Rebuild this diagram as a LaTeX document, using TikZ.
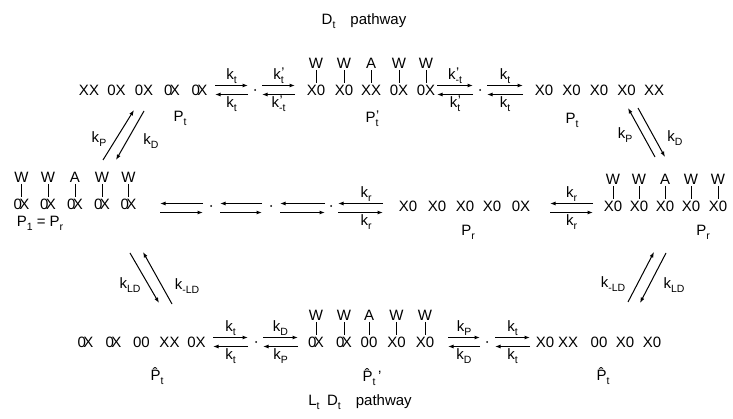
\documentclass[tikz,border=0pt]{standalone}
\usepackage{fontspec}
\setmainfont{Liberation Sans}
\usetikzlibrary{arrows.meta,calc}
\newcommand\ssz{\fontsize{10.5}{12}\selectfont}
\newcommand\sub[1]{\raisebox{-0.28em}{\ssz#1}}
\newcommand\primemark{\fontsize{14}{14}\selectfont\kern0.5pt\textquoteright}
\newcommand\supsub[2]{#1\rlap{\raisebox{0.12em}{\primemark}}\raisebox{-0.28em}{\ssz#2}}
\newcommand\ox{0\kern-2.8pt X}
\tikzset{
  pr/.style={inner sep=0pt, font=\fontsize{15}{17}\selectfont},
  lab/.style={inner sep=1.5pt, font=\fontsize{15}{17}\selectfont},
  eqa/.style={line width=1pt, -{Latex[length=5.5pt,width=4pt]}},
  bar/.style={line width=1pt, shorten <=1.5pt, shorten >=1.5pt},
}
% chain: name, y, list x/text
\newcommand\chain[3]{\foreach \xx/\lbl [count=\i] in {#3}{\node[pr] (#1-\i) at (\xx,#2) {\lbl};}}
% tops over #1-1..5
\newcommand\tops[2]{\foreach \lbl [count=\i] in {#2}{\node[pr,anchor=south] (#1w\i) at ($(#1-\i.north)+(0,-16)$) {\lbl}; \draw[bar] (#1w\i.south) -- (#1-\i.north);}}
% pair with upper arrow to the right: name, x1, x2, y, up label, low label
\newcommand\eqr[6]{%
  \coordinate (#1a) at (#2,{#4-4.5}); \coordinate (#1b) at (#3,{#4-4.5});
  \coordinate (#1c) at (#2,{#4+4.5}); \coordinate (#1d) at (#3,{#4+4.5});
  \draw[eqa] (#1a) -- (#1b); \draw[eqa] (#1d) -- (#1c);
  \node[lab,anchor=south] (#1u) at ($(#1a)!.5!(#1b)$) {#5};
  \node[lab,anchor=north] (#1l) at ($(#1c)!.5!(#1d)$) {#6};}
% pair with upper arrow to the left, no labels
\newcommand\eql[4]{%
  \coordinate (#1a) at (#2,{#4-4.5}); \coordinate (#1b) at (#3,{#4-4.5});
  \coordinate (#1c) at (#2,{#4+4.5}); \coordinate (#1d) at (#3,{#4+4.5});
  \draw[eqa] (#1b) -- (#1a); \draw[eqa] (#1c) -- (#1d);}
\newcommand\dotat[3]{\coordinate (#1) at (#2,#3); \fill (#1) circle (1pt);}
\begin{document}
\begin{tikzpicture}[x=1pt,y=-1pt]
\useasboundingbox (0,0) rectangle (733,419);
% titles
\node[pr] (ttop) at (364,21) {D\sub{t}\quad pathway};
\node[pr] (tbot) at (360,402) {L\sub{t}\enspace D\sub{t}\quad pathway};
% ---------- top row ----------
\chain{TL}{90}{89/XX, 116.5/0X, 144/0X, 172/\ox, 199.5/\ox}
\node[pr] (TLp) at (180,118) {P\sub{t}};
\eqr{t1}{215}{248}{90}{k\sub{t}}{k\sub{t}}
\dotat{td1}{255}{90}
\eqr{t2}{262}{295}{90}{\supsub{k}{t}}{\supsub{k}{-t}}
\chain{TM}{90}{316/X0, 344/X0, 371/XX, 399/0X, 426/0X}
\tops{TM}{W,W,A,W,W}
\node[pr] (TMp) at (372,119) {\supsub{P}{t}};
\eqr{t3}{437}{473}{90}{\supsub{k}{-t}}{\supsub{k}{t}}
\dotat{td2}{480}{90}
\eqr{t4}{487}{523}{90}{k\sub{t}}{k\sub{t}}
\chain{TR}{90}{544/X0, 571.5/X0, 599/X0, 626.5/X0, 654/XX}
\node[pr] (TRp) at (572,120) {P\sub{t}};
% ---------- middle row ----------
\chain{ML}{204}{21.5/\ox, 48/\ox, 75/\ox, 102/\ox, 128.5/\ox}
\tops{ML}{W,W,A,W,W}
\node[pr] (MLp) at (40,223) {P\sub{1} = P\sub{r}};
\eql{m1}{160}{203}{208}
\dotat{md1}{211}{206}
\eql{m2}{220}{262}{208}
\dotat{md2}{271}{206}
\eql{m3}{280}{325}{208}
\dotat{md3}{331}{206}
\eql{m4}{338}{383}{208}
\node[lab,anchor=south] (m4u) at (366,203.5) {k\sub{r}};
\node[lab,anchor=north] (m4l) at (366,212.5) {k\sub{r}};
\chain{MC}{206}{408/X0, 437/X0, 465/X0, 492/X0, 521/0X}
\node[pr] (MCp) at (468,232) {P\sub{r}};
\eql{m5}{550}{593}{208}
\node[lab,anchor=south] (m5u) at (571.5,203.5) {k\sub{r}};
\node[lab,anchor=north] (m5l) at (571.5,212.5) {k\sub{r}};
\chain{MR}{206}{613/X0, 639/X0, 665/X0, 691/X0, 718/X0}
\tops{MR}{W,W,A,W,W}
\node[pr] (MRp) at (703,232) {P\sub{r}};
% ---------- bottom row ----------
\chain{BL}{342}{85.5/\ox, 113.5/\ox, 141.5/00, 169.5/XX, 196.5/0X}
\node[pr] (BLp) at (157,376) {\^{P}\sub{t}};
\eqr{b1}{213}{248}{342}{k\sub{t}}{k\sub{t}}
\dotat{bd1}{256}{342}
\eqr{b2}{263}{298}{342}{k\sub{D}}{k\sub{P}}
\chain{BM}{342}{316/\ox, 344/\ox, 369/00, 396.5/X0, 425/X0}
\tops{BM}{W,W,A,W,W}
\node[pr] (BMp) at (372,377) {\^{P}\sub{t}\,\textquoteright};
\eqr{b3}{448}{480}{342}{k\sub{P}}{k\sub{D}}
\dotat{bd2}{487}{342}
\eqr{b4}{495}{530}{342}{k\sub{t}}{k\sub{t}}
\chain{BR}{342}{545/X0, 568/XX, 599/00, 625/X0, 652/X0}
\node[pr] (BRp) at (603,376) {\^{P}\sub{t}};
% ---------- diagonal arrows ----------
\coordinate (lu1) at (103,160); \coordinate (lu2) at (134,110);
\coordinate (lu3) at (144,111); \coordinate (lu4) at (116,160);
\draw[eqa] (lu1) -- (lu2); \draw[eqa] (lu3) -- (lu4);
\node[lab] (luP) at (99,139) {k\sub{P}};
\node[lab] (luD) at (151,141) {k\sub{D}};
\coordinate (ll1) at (130,253); \coordinate (ll2) at (159,303);
\coordinate (ll3) at (172,304); \coordinate (ll4) at (143,252);
\draw[eqa] (ll1) -- (ll2); \draw[eqa] (ll3) -- (ll4);
\node[lab] (llLD) at (130,285) {k\sub{LD}};
\node[lab] (llmLD) at (187,286) {k\sub{-LD}};
\coordinate (ru1) at (655,157); \coordinate (ru2) at (628,108);
\coordinate (ru3) at (638,108); \coordinate (ru4) at (665,157);
\draw[eqa] (ru1) -- (ru2); \draw[eqa] (ru3) -- (ru4);
\node[lab] (ruP) at (625,135) {k\sub{P}};
\node[lab] (ruD) at (675,138) {k\sub{D}};
\coordinate (rl1) at (628,302); \coordinate (rl2) at (654,252);
\coordinate (rl3) at (666,253); \coordinate (rl4) at (640,303);
\draw[eqa] (rl1) -- (rl2); \draw[eqa] (rl3) -- (rl4);
\node[lab] (rlmLD) at (613,284) {k\sub{-LD}};
\node[lab] (rlLD) at (674,285) {k\sub{LD}};
\end{tikzpicture}
\end{document}
